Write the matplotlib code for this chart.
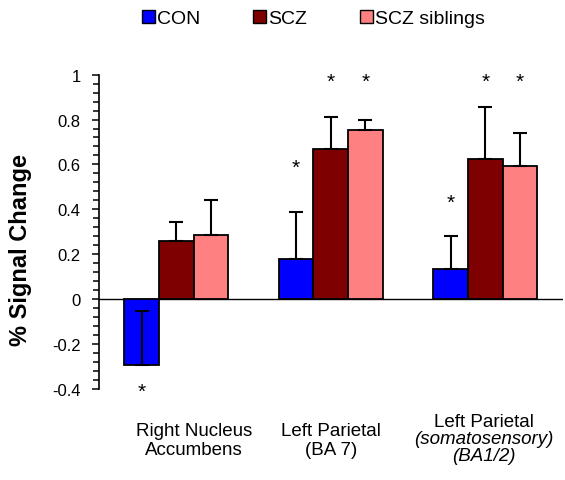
import matplotlib
matplotlib.use("Agg")
import matplotlib.pyplot as plt
from matplotlib.ticker import MultipleLocator, FuncFormatter
from matplotlib.patches import Patch
from matplotlib.transforms import blended_transform_factory
import numpy as np

plt.rcParams['font.family'] = ['Liberation Sans', 'DejaVu Sans']
plt.rcParams['axes.unicode_minus'] = False

# ---- data ----
regions = ["Right Nucleus Accumbens", "Left Parietal (BA 7)", "Left Parietal (somatosensory) (BA1/2)"]
groups = ["CON", "SCZ", "SCZ siblings"]
con_vals = [-0.295, 0.176, 0.134]
scz_vals = [0.257, 0.667, 0.622]
sib_vals = [0.283, 0.753, 0.591]
con_err = [0.24, 0.211, 0.146]
scz_err = [0.085, 0.144, 0.232]
sib_err = [0.156, 0.047, 0.150]
# significance asterisk heights (None = no asterisk)
con_star = [-0.41, 0.588, 0.43]
scz_star = [None, 0.972, 0.972]
sib_star = [None, 0.972, 0.972]
yticks = [-0.4, -0.2, 0, 0.2, 0.4, 0.6, 0.8, 1]

colors = ["#0000ff", "#7f0000", "#ff8080"]

fig = plt.figure(figsize=(5.65, 4.81), dpi=100)
ax = fig.add_axes([0.175, 0.19, 0.821, 0.6526])

x = np.arange(len(regions))
w = 0.224
series = [(con_vals, con_err, con_star), (scz_vals, scz_err, scz_star), (sib_vals, sib_err, sib_star)]
for i, (vals, errs, stars) in enumerate(series):
    xs = x + (i - 1) * w
    ax.bar(xs, vals, width=w, color=colors[i], edgecolor="black", linewidth=1.3, zorder=2)
    ax.errorbar(xs, vals, yerr=[np.zeros(len(errs)), errs], fmt="none", ecolor="black",
                elinewidth=1.5, capsize=4.9, capthick=1.5, zorder=3)
    for xi, s in zip(xs, stars):
        if s is not None:
            ax.text(xi, s, "*", ha="center", va="center", fontsize=15, clip_on=False)

ax.axhline(0, color="black", linewidth=1.0, zorder=1)
ax.set_xlim(-0.5, 2.5)
ax.set_ylim(-0.4, 1.0)
ax.set_yticks(yticks)
ax.yaxis.set_major_formatter(FuncFormatter(lambda v, p: "%g" % round(v, 2)))
ax.yaxis.set_minor_locator(MultipleLocator(0.04))
ax.tick_params(axis="y", which="major", direction="out", length=5, width=1.1, labelsize=12, pad=8)
ax.tick_params(axis="y", which="minor", direction="out", length=4.5, width=1.1)
ax.set_xticks([])
for sp in ["top", "right", "bottom"]:
    ax.spines[sp].set_visible(False)
ax.spines["left"].set_linewidth(1.2)

# y label
fig.text(0.037, 0.48, "% Signal Change", rotation=90, ha="center", va="center",
         fontsize=17, fontweight="bold")

# category labels (split lines with styles)
lab_lines = [
    [("Right Nucleus", "normal"), ("Accumbens", "normal")],
    [("Left Parietal", "normal"), ("(BA 7)", "normal")],
    [("Left Parietal", "normal"), ("(somatosensory)", "italic"), ("(BA1/2)", "italic")],
]
lab_x = [0.113, 1.0, 1.99]
lab_y = [[0.1019, 0.0644], [0.1019, 0.0644], [0.1206, 0.0873, 0.0499]]
tr = blended_transform_factory(ax.transData, fig.transFigure)
for lines, lx, ly in zip(lab_lines, lab_x, lab_y):
    for (txt, style), yy in zip(lines, ly):
        ax.text(lx, yy, txt, transform=tr, ha="center", va="center", fontsize=13.5, style=style)

handles = [Patch(facecolor=c, edgecolor="black", linewidth=1.0) for c in colors]
fig.legend(handles, groups, loc="center", bbox_to_anchor=(0.555, 0.959), ncol=3,
           frameon=False, fontsize=14, handlelength=0.67, handleheight=0.62,
           handletextpad=0.12, columnspacing=2.7)

fig.savefig("out.png", dpi=100)
